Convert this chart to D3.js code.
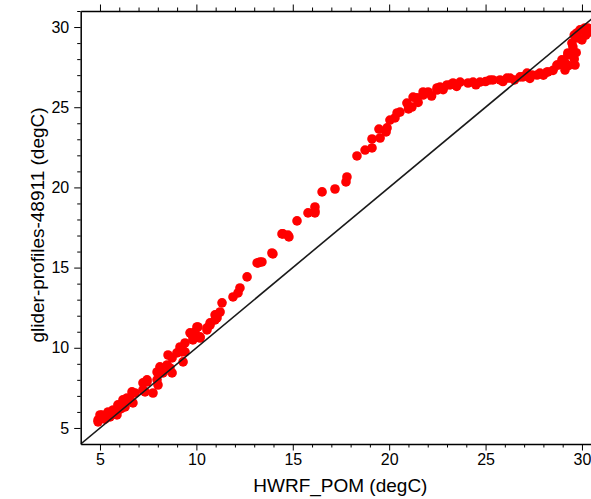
<!DOCTYPE html>
<html>
<head>
<meta charset="utf-8">
<script src="https://cdn.jsdelivr.net/npm/d3@7"></script>
<style>
  html, body { margin: 0; padding: 0; background: #fff; }
  svg { display: block; }
  text { font-family: "Liberation Sans", Arial, Helvetica, sans-serif; fill: #000; }
</style>
</head>
<body>
<svg id="chart" width="591" height="499"></svg>
<script>
// ---- data (degC) ----
const hwrfPom = [
  4.90, 4.90, 5.00, 5.10, 5.42, 5.52, 5.68, 5.88, 5.88, 5.93, 6.04, 6.19, 6.30, 6.40, 6.56, 6.66, 6.71, 6.82,
  7.23, 7.23, 7.34, 7.44, 7.44, 7.75, 7.96, 7.96, 8.01, 8.11, 8.27, 8.48, 8.63, 8.74, 8.53, 8.74, 8.99, 9.15,
  9.25, 9.31, 9.41, 9.41, 9.25, 9.67, 9.82, 9.77, 9.93, 10.03, 10.08, 10.19, 10.19, 10.55, 10.55, 10.71, 10.71,
  10.97, 10.97, 11.07, 11.07, 11.23, 11.33, 11.90, 12.16, 12.26, 12.63, 13.15, 13.20, 13.30, 13.40, 13.92, 13.97,
  14.44, 14.49, 14.75, 14.80, 15.22, 15.79, 16.15, 16.15, 16.15, 16.52, 17.19, 17.76, 17.81, 18.33, 18.75, 19.11,
  19.11, 19.47, 19.53, 19.84, 19.89, 20.04, 20.30, 20.41, 20.56, 20.92, 21.18, 21.24, 21.44, 21.76, 21.76, 22.02,
  22.48, 22.48, 22.64, 23.00, 23.16, 23.31, 23.68, 24.09, 24.35, 24.71, 25.23, 25.38, 25.75, 26.11, 26.27, 26.79,
  26.94, 27.15, 27.41, 27.67, 27.82, 28.19, 28.24, 28.70, 28.75, 28.96, 29.12, 29.12, 29.27, 29.27, 29.48, 29.64,
  29.53, 29.74, 29.79, 29.90, 30.05, 30.15, 30.31,
  21.00, 21.50, 22.20, 22.80, 23.50, 24.50, 25.00, 25.90, 26.50, 27.30, 28.00, 28.50, 29.30, 29.60, 29.70, 30.20,
  30.00, 29.60, 30.40, 5.26, 6.10
];
const gliderProfiles = [
  5.50, 5.38, 5.81, 5.81, 6.00, 5.69, 6.12, 5.81, 6.00, 6.44, 6.25, 6.75, 6.31, 6.87, 6.75, 7.25, 6.56, 7.18,
  7.81, 7.37, 7.25, 8.00, 7.87, 7.18, 8.49, 8.00, 7.68, 8.81, 8.43, 8.93, 8.74, 8.43, 9.55, 9.37, 9.68, 10.05,
  9.74, 9.12, 9.74, 10.30, 9.99, 10.93, 10.49, 10.80, 10.99, 11.30, 11.30, 10.68, 10.61, 11.24, 11.11, 11.55, 11.42,
  12.05, 11.74, 11.86, 12.05, 12.23, 12.80, 13.17, 13.42, 13.73, 14.42, 15.29, 15.29, 15.35, 15.35, 15.91, 15.85,
  17.10, 17.10, 17.03, 16.91, 17.91, 18.41, 18.53, 18.78, 18.41, 19.72, 19.90, 20.34, 20.65, 21.96, 22.33, 22.46,
  23.02, 23.64, 23.08, 23.46, 23.71, 24.20, 24.33, 24.64, 24.70, 25.26, 25.01, 25.63, 25.58, 25.76, 25.95, 25.95,
  26.07, 26.20, 26.26, 26.39, 26.39, 26.51, 26.57, 26.51, 26.57, 26.57, 26.70, 26.70, 26.70, 26.82, 26.82, 26.89,
  26.89, 27.13, 27.01, 27.01, 27.13, 27.20, 27.20, 27.63, 27.63, 27.95, 27.76, 27.32, 28.26, 28.38, 29.00, 27.63,
  28.76, 29.63, 29.32, 29.82, 29.82, 29.94, 29.94,
  24.90, 25.30, 25.70, 26.10, 26.30, 26.40, 26.60, 26.60, 26.70, 26.80, 27.00, 27.30, 27.60, 28.00, 28.40, 29.50,
  29.20, 29.50, 29.70, 5.55, 6.20
];
const xTickLabels = [5, 10, 15, 20, 25, 30];
const yTickLabels = [5, 10, 15, 20, 25, 30];
const xDomain = [4, 30.5];
const yDomain = [4, 31];
const xTitle = "HWRF_POM (degC)";
const yTitle = "glider-profiles-48911 (degC)";

// ---- layout ----
const svg = d3.select("#chart");
const mLeft = 80.7, mRight = 591.6, mTop = 11, mBottom = 444;
const x = d3.scaleLinear().domain(xDomain).range([mLeft, mRight]);
const y = d3.scaleLinear().domain(yDomain).range([mBottom, mTop]);

const minorX = d3.range(5, 31, 1).filter(v => !xTickLabels.includes(v));
const minorY = d3.range(5, 32, 1).filter(v => !yTickLabels.includes(v));

const points = hwrfPom.map((v, i) => ({ x: v, y: gliderProfiles[i] }));

svg.append("defs").append("clipPath").attr("id", "clip")
  .append("rect").attr("x", mLeft).attr("y", mTop).attr("width", mRight - mLeft).attr("height", mBottom - mTop);

// points
svg.append("g").attr("clip-path", "url(#clip)")
  .selectAll("circle").data(points).join("circle")
  .attr("cx", d => x(d.x)).attr("cy", d => y(d.y)).attr("r", 4.8)
  .attr("fill", "#ff0000");

// 1:1 line
svg.append("line").attr("clip-path", "url(#clip)")
  .attr("x1", x(xDomain[0])).attr("y1", y(xDomain[0]))
  .attr("x2", x(xDomain[1])).attr("y2", y(xDomain[1]))
  .attr("stroke", "#1a1a1a").attr("stroke-width", 1.6);

function styleAxis(g) {
  g.selectAll("path.domain").attr("stroke", "#000").attr("stroke-width", 1.5);
  g.selectAll(".tick line").attr("stroke", "#000").attr("stroke-width", 1);
  g.selectAll(".tick text").style("font-size", "16px").attr("fill", "#000")
    .style("font-family", "'Liberation Sans', Arial, Helvetica, sans-serif");
}

// bottom axis
const gB = svg.append("g").attr("transform", `translate(0,${mBottom})`);
gB.append("g").call(d3.axisBottom(x).tickValues(xTickLabels).tickSize(6.5).tickPadding(3).tickSizeOuter(0)).call(styleAxis);
gB.append("g").call(d3.axisBottom(x).tickValues(minorX).tickSize(3.5).tickFormat("").tickSizeOuter(0))
  .call(g => g.select(".domain").remove()).call(styleAxis);

// top axis
const gT = svg.append("g").attr("transform", `translate(0,${mTop})`);
gT.append("g").call(d3.axisTop(x).tickValues(xTickLabels).tickSize(6.5).tickFormat("").tickSizeOuter(0)).call(styleAxis);
gT.append("g").call(d3.axisTop(x).tickValues(minorX).tickSize(3.5).tickFormat("").tickSizeOuter(0))
  .call(g => g.select(".domain").remove()).call(styleAxis);

// left axis
const gL = svg.append("g").attr("transform", `translate(${mLeft},0)`);
gL.append("g").call(d3.axisLeft(y).tickValues(yTickLabels).tickSize(6.5).tickPadding(5).tickSizeOuter(0)).call(styleAxis);
gL.append("g").call(d3.axisLeft(y).tickValues(minorY).tickSize(3.5).tickFormat("").tickSizeOuter(0))
  .call(g => g.select(".domain").remove()).call(styleAxis);

// right axis (frame)
const gR = svg.append("g").attr("transform", `translate(${mRight},0)`);
gR.append("g").call(d3.axisRight(y).tickValues(yTickLabels).tickSize(6.5).tickFormat("").tickSizeOuter(0)).call(styleAxis);

// titles
svg.append("text").attr("x", (mLeft + 600) / 2).attr("y", 492)
  .attr("text-anchor", "middle").style("font-size", "19px").text(xTitle);
svg.append("text").attr("transform", "translate(44,225) rotate(-90)")
  .attr("text-anchor", "middle").style("font-size", "19px").text(yTitle);
</script>
</body>
</html>
